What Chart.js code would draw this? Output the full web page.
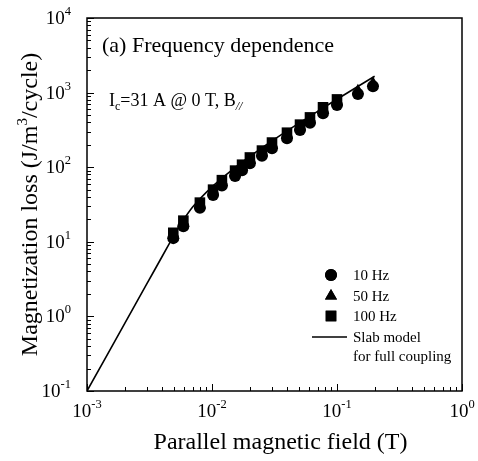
<!DOCTYPE html>
<html><head><meta charset="utf-8">
<script src="https://cdn.jsdelivr.net/npm/chart.js@4/dist/chart.umd.min.js"></script>
<style>html,body{margin:0;padding:0;background:#fff;}#wrap{width:478px;height:461px;position:relative;}</style>
</head><body><div id="wrap"><canvas id="c" width="478" height="461" style="width:478px;height:461px;"></canvas></div>
<script>
// ---- data ----
const fieldT      = [0.0049, 0.0059, 0.0080, 0.0102, 0.0120, 0.0153, 0.0174, 0.0201, 0.0251, 0.0302, 0.0398, 0.0506, 0.0608, 0.0773, 0.100, 0.147, 0.194];
const loss10Hz    = [11.2, 16.2, 28.5, 42.5, 57, 76, 91, 113, 142, 180, 245, 315, 395, 530, 680, 960, 1220];
const loss50Hz    = [12.3, 17.8, 31, 46.5, 62, 84, 100, 125, 155, 198, 270, 345, 430, 585, 750, 1060, 1330];
const loss100Hz   = [13.2, 19.2, 33.5, 50, 67, 90, 108, 135, 167, 214, 290, 372, 465, 635, 810];
const slabField   = [0.001, 0.002, 0.003, 0.004, 0.005, 0.0053, 0.007, 0.01, 0.015, 0.02, 0.03, 0.05, 0.07, 0.1, 0.15, 0.2];
const slabLoss    = [0.1, 0.8, 2.7, 6.4, 12.5, 14.9, 29.2, 54.6, 96.7, 139, 223, 392, 561, 814, 1235, 1657];
const seriesNames = ['10 Hz', '50 Hz', '100 Hz', 'Slab model', 'for full coupling'];
const xRange = [1e-3, 1];
const yRange = [1e-1, 1e4];
const xTitle = 'Parallel magnetic field (T)';
const yTitle = ['Magnetization loss (J/m', '3', '/cycle)'];
const panelTitle = '(a) Frequency dependence';

const SERIF = '"Liberation Serif", "DejaVu Serif", serif';
const pts = (xs, ys) => ys.map((y, i) => ({x: xs[i], y: y}));

function drawRich(ctx, parts, x, y, align) {
  let w = 0;
  parts.forEach(p => { ctx.font = (p.style || '') + ' ' + p.size + 'px ' + SERIF; p.w = ctx.measureText(p.t).width; w += p.w; });
  let cx = align === 'center' ? x - w / 2 : align === 'right' ? x - w : x;
  ctx.textAlign = 'left'; ctx.textBaseline = 'alphabetic';
  parts.forEach(p => { ctx.font = (p.style || '') + ' ' + p.size + 'px ' + SERIF; ctx.fillText(p.t, cx, y + (p.dy || 0)); cx += p.w; });
}
function supLabel(v) {
  const e = Math.round(Math.log10(v));
  return [{t: '10', size: 19}, {t: String(e), size: 12.5, dy: -9}];
}
function logTicks(min, max) {
  const out = [];
  for (let e = Math.floor(Math.log10(min)); e <= Math.ceil(Math.log10(max)); e++) {
    for (let m = 1; m <= 9; m++) {
      const v = m * Math.pow(10, e);
      if (v >= min * 0.999 && v <= max * 1.001) out.push({v: v, major: m === 1});
    }
  }
  return out;
}

const framePlugin = {
  id: 'frame',
  afterDatasetsDraw(chart) {
    const {ctx, chartArea: a, scales: {x, y}} = chart;
    ctx.save();
    ctx.strokeStyle = '#000'; ctx.fillStyle = '#000';
    ctx.lineWidth = 1.5;
    ctx.strokeRect(a.left, a.top, a.right - a.left, a.bottom - a.top);
    ctx.lineWidth = 1;
    ctx.beginPath();
    logTicks(x.min, x.max).forEach(t => {
      const px = Math.round(x.getPixelForValue(t.v)) + 0.5;
      const len = t.major ? 7 : 4;
      ctx.moveTo(px, a.bottom); ctx.lineTo(px, a.bottom - len);
    });
    logTicks(y.min, y.max).forEach(t => {
      const py = Math.round(y.getPixelForValue(t.v)) + 0.5;
      const len = t.major ? 7 : 4;
      ctx.moveTo(a.left, py); ctx.lineTo(a.left + len, py);
    });
    ctx.stroke();
    // tick labels
    logTicks(x.min, x.max).filter(t => t.major).forEach(t => {
      drawRich(ctx, supLabel(t.v), x.getPixelForValue(t.v), a.bottom + 26, 'center');
    });
    logTicks(y.min, y.max).filter(t => t.major).forEach(t => {
      drawRich(ctx, supLabel(t.v), a.left - 16, y.getPixelForValue(t.v) + 6, 'right');
    });
    // axis titles
    drawRich(ctx, [{t: xTitle, size: 24}], (a.left + a.right) / 2 + 6, a.bottom + 58, 'center');
    ctx.save();
    ctx.translate(37, (a.top + a.bottom) / 2);
    ctx.rotate(-Math.PI / 2);
    drawRich(ctx, [{t: yTitle[0], size: 24}, {t: yTitle[1], size: 15, dy: -10}, {t: yTitle[2], size: 24}], 0, 0, 'center');
    ctx.restore();
    // panel annotations
    drawRich(ctx, [{t: panelTitle, size: 22}], a.left + 15, a.top + 34, 'left');
    drawRich(ctx, [{t: 'I', size: 18}, {t: 'c', size: 12, dy: 4}, {t: '=31 A @ 0 T, B', size: 18}, {t: '//', size: 12, dy: 4, style: 'italic'}],
             a.left + 22, a.top + 88, 'left');
    // legend
    const lx = a.left + 244, tx = a.left + 266;
    const rows = [a.top + 257, a.top + 278, a.top + 298, a.top + 319, a.top + 338];
    const markers = ['circle', 'triangle', 'rect'];
    const radii = [6, 7, 7.5];
    markers.forEach((m, i) => {
      ctx.beginPath();
      Chart.helpers.drawPoint(ctx, {pointStyle: m, radius: radii[i], borderWidth: 0}, lx, rows[i]);
      ctx.fill();
    });
    ctx.lineWidth = 1.5;
    ctx.beginPath(); ctx.moveTo(lx - 19, rows[3]); ctx.lineTo(lx + 16, rows[3]); ctx.stroke();
    seriesNames.forEach((s, i) => drawRich(ctx, [{t: s, size: 15}], tx, rows[i] + 5, 'left'));
    ctx.restore();
  }
};

new Chart(document.getElementById('c'), {
  type: 'scatter',
  data: {
    datasets: [
      {label: seriesNames[0], data: pts(fieldT, loss10Hz), pointStyle: 'circle', pointRadius: 6, backgroundColor: '#000', borderColor: '#000', borderWidth: 0},
      {label: seriesNames[1], data: pts(fieldT, loss50Hz), pointStyle: 'triangle', pointRadius: 7, backgroundColor: '#000', borderColor: '#000', borderWidth: 0},
      {label: seriesNames[2], data: pts(fieldT, loss100Hz), pointStyle: 'rect', pointRadius: 7.5, backgroundColor: '#000', borderColor: '#000', borderWidth: 0},
      {label: seriesNames[3], type: 'line', data: pts(slabField, slabLoss), showLine: true, pointRadius: 0, borderColor: '#000', borderWidth: 1.6, tension: 0.3, fill: false}
    ]
  },
  options: {
    responsive: false, animation: false, devicePixelRatio: 1,
    layout: {padding: {left: 0, top: 18, right: 16, bottom: 0}},
    plugins: {legend: {display: false}, tooltip: {enabled: false}},
    scales: {
      x: {type: 'logarithmic', min: xRange[0], max: xRange[1], grid: {display: false}, border: {display: false}, ticks: {display: false},
          afterFit: s => { s.height = 70; }},
      y: {type: 'logarithmic', min: yRange[0], max: yRange[1], grid: {display: false}, border: {display: false}, ticks: {display: false},
          afterFit: s => { s.width = 87; }}
    }
  },
  plugins: [framePlugin]
});
</script>
</body></html>
